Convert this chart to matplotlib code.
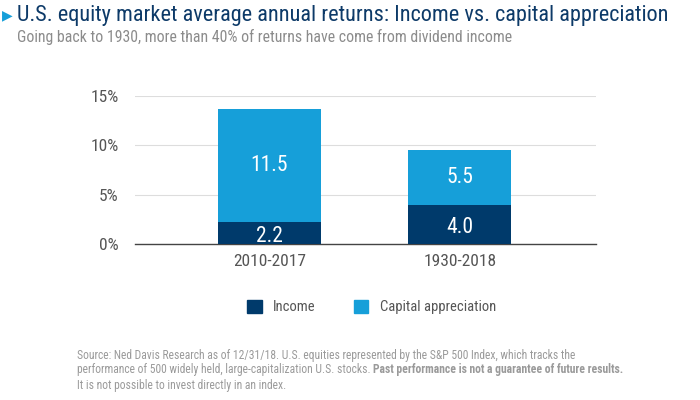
import matplotlib
matplotlib.use("Agg")
import matplotlib.pyplot as plt
from matplotlib.patches import Patch

plt.rcParams['font.family'] = ['Roboto Condensed', 'DejaVu Sans']

periods = ['2010-2017', '1930-2018']
income = [2.2, 4.0]
capital = [11.5, 5.5]
yticks = [0, 5, 10, 15]

navy = '#003a6b'
light = '#169fd9'
gray = '#555555'
foot_gray = '#9a9a9a'

fig = plt.figure(figsize=(7, 4), dpi=100)
ax = fig.add_axes([0.193, 0.39, 0.658, 0.37])

x = range(len(periods))
ax.bar(x, income, width=0.54, color=navy, zorder=3)
ax.bar(x, capital, width=0.54, bottom=income, color=light, zorder=3)

# value labels inside the stacks
for i in x:
    ax.text(i, income[i] / 2 - 0.3, f'{income[i]:.1f}', ha='center', va='center',
            color='white', fontsize=15.5, zorder=4)
    ax.text(i, income[i] + capital[i] / 2, f'{capital[i]:.1f}', ha='center', va='center',
            color='white', fontsize=15.5, zorder=4)

ax.set_xlim(-0.706, 1.714)
ax.set_ylim(0, 15)
ax.set_yticks(yticks)
ax.set_yticklabels([f'{t}%' for t in yticks])
ax.set_xticks(list(x))
ax.set_xticklabels(periods)
ax.tick_params(axis='both', length=0, labelsize=12.5, colors=gray)
ax.tick_params(axis='x', pad=7)
ax.tick_params(axis='y', pad=12)
ax.grid(axis='y', color='#dddddd', linewidth=0.8, zorder=0)
for s in ['top', 'right', 'left']:
    ax.spines[s].set_visible(False)
ax.spines['bottom'].set_color('#444444')
ax.spines['bottom'].set_linewidth(1)

handles = [Patch(color=navy, label='Income'), Patch(color=light, label='Capital appreciation')]
fig.legend(handles=handles, loc='center', bbox_to_anchor=(0.531, 0.2325), ncol=2,
           frameon=False, fontsize=10.5, handlelength=1.0, handleheight=1.0,
           columnspacing=2.6, labelcolor=gray)

# title block
fig.text(0.003, 0.962, '\u25B6', color=light, fontsize=10, va='center', family='DejaVu Sans')
fig.text(0.024, 0.962, 'U.S. equity market average annual returns: Income vs. capital appreciation',
         color='#0d3a68', fontsize=16, va='center')
fig.text(0.024, 0.907, 'Going back to 1930, more than 40% of returns have come from dividend income',
         color='#8c8c8c', fontsize=11.4, va='center')

# footnote
fs = 8.4
y0 = 0.075
fig.text(0.11, y0 + 0.0375, 'Source: Ned Davis Research as of 12/31/18. U.S. equities represented by the '
         'S&P 500 Index, which tracks the', color=foot_gray, fontsize=fs, va='center')
t2 = fig.text(0.11, y0, 'performance of 500 widely held, large-capitalization U.S. stocks. ',
              color=foot_gray, fontsize=fs, va='center')
plt.annotate('Past performance is not a guarantee of future results.', xy=(1, 0), xycoords=t2,
             va='bottom', ha='left', color=foot_gray, fontsize=fs, fontweight='bold')
fig.text(0.11, y0 - 0.0375, 'It is not possible to invest directly in an index.',
         color=foot_gray, fontsize=fs, va='center')

fig.savefig('out.png', dpi=100)
